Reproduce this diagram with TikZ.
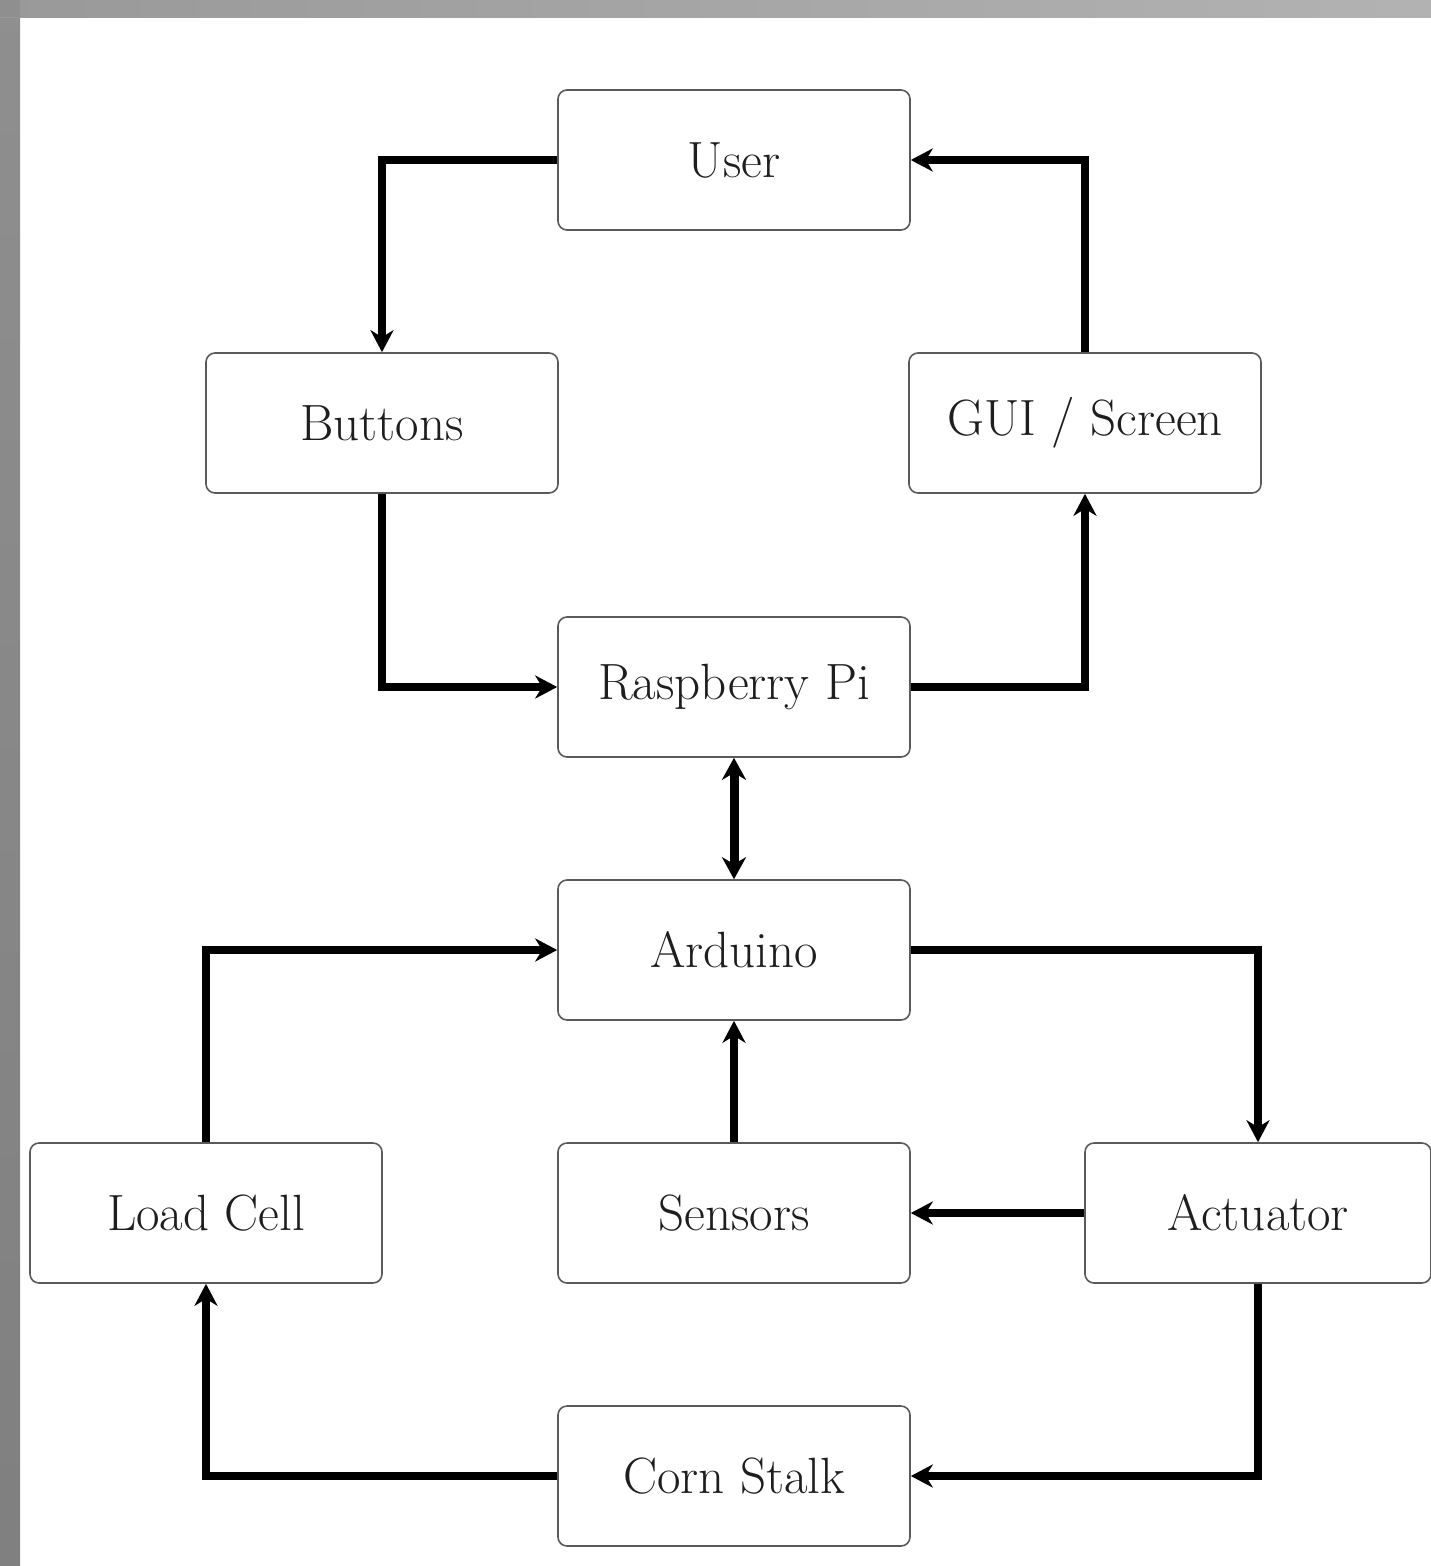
\documentclass[tikz,border=0pt]{standalone}
\usepackage{fontspec}
\usetikzlibrary{arrows.meta,calc}
\definecolor{boxline}{HTML}{5A5A5A}
\definecolor{txt}{HTML}{1E1E1E}
\begin{document}
\begin{tikzpicture}[x=1pt,y=-1pt,
  blk/.style={draw=boxline,line width=1.6pt,rounded corners=9pt,minimum width=352pt,minimum height=140pt,
    inner sep=0pt,text=txt,font=\fontsize{51}{60}\selectfont,fill=white},
  conn/.style={line width=7.5pt,-{Stealth[length=22pt,width=23pt,inset=7pt]}},
  biconn/.style={line width=9pt,{Stealth[length=22pt,width=24pt,inset=7pt]}-{Stealth[length=22pt,width=24pt,inset=7pt]}}]
\useasboundingbox (0,0) rectangle (1431,1566);
\fill[white] (0,0) rectangle (1431,1566);
\shade[top color=black!44,bottom color=black!50] (0,0) rectangle (20,1566);
\shade[left color=black!40,right color=black!30] (0,0) rectangle (1431,17);
\fill[black!44] (0,0) rectangle (20,17);

\node[blk] (user)   at (734,160)  {User};
\node[blk] (btn)    at (382,423)  {Buttons};
\node[blk] (gui)    at (1085,423) {GUI / Screen};
\node[blk] (rpi)    at (734,687)  {Raspberry Pi};
\node[blk] (ard)    at (734,950)  {Arduino};
\node[blk] (load)   at (206,1213) {Load Cell};
\node[blk] (sens)   at (734,1213) {Sensors};
\node[blk,minimum width=346pt] (act) at (1258,1213) {Actuator};
\node[blk] (corn)   at (734,1476) {Corn Stalk};

\draw[conn] (user.west) -| (btn.north);
\draw[conn] (btn.south) |- (rpi.west);
\draw[conn] (rpi.east) -| (gui.south);
\draw[conn] (gui.north) |- (user.east);
\draw[biconn] (rpi.south) -- (ard.north);
\draw[conn] (load.north) |- (ard.west);
\draw[conn] (ard.east) -| (act.north);
\draw[conn] (sens.north) -- (ard.south);
\draw[conn] (act.west) -- (sens.east);
\draw[conn] (act.south) |- (corn.east);
\draw[conn] (corn.west) -| (load.south);
\end{tikzpicture}
\end{document}
